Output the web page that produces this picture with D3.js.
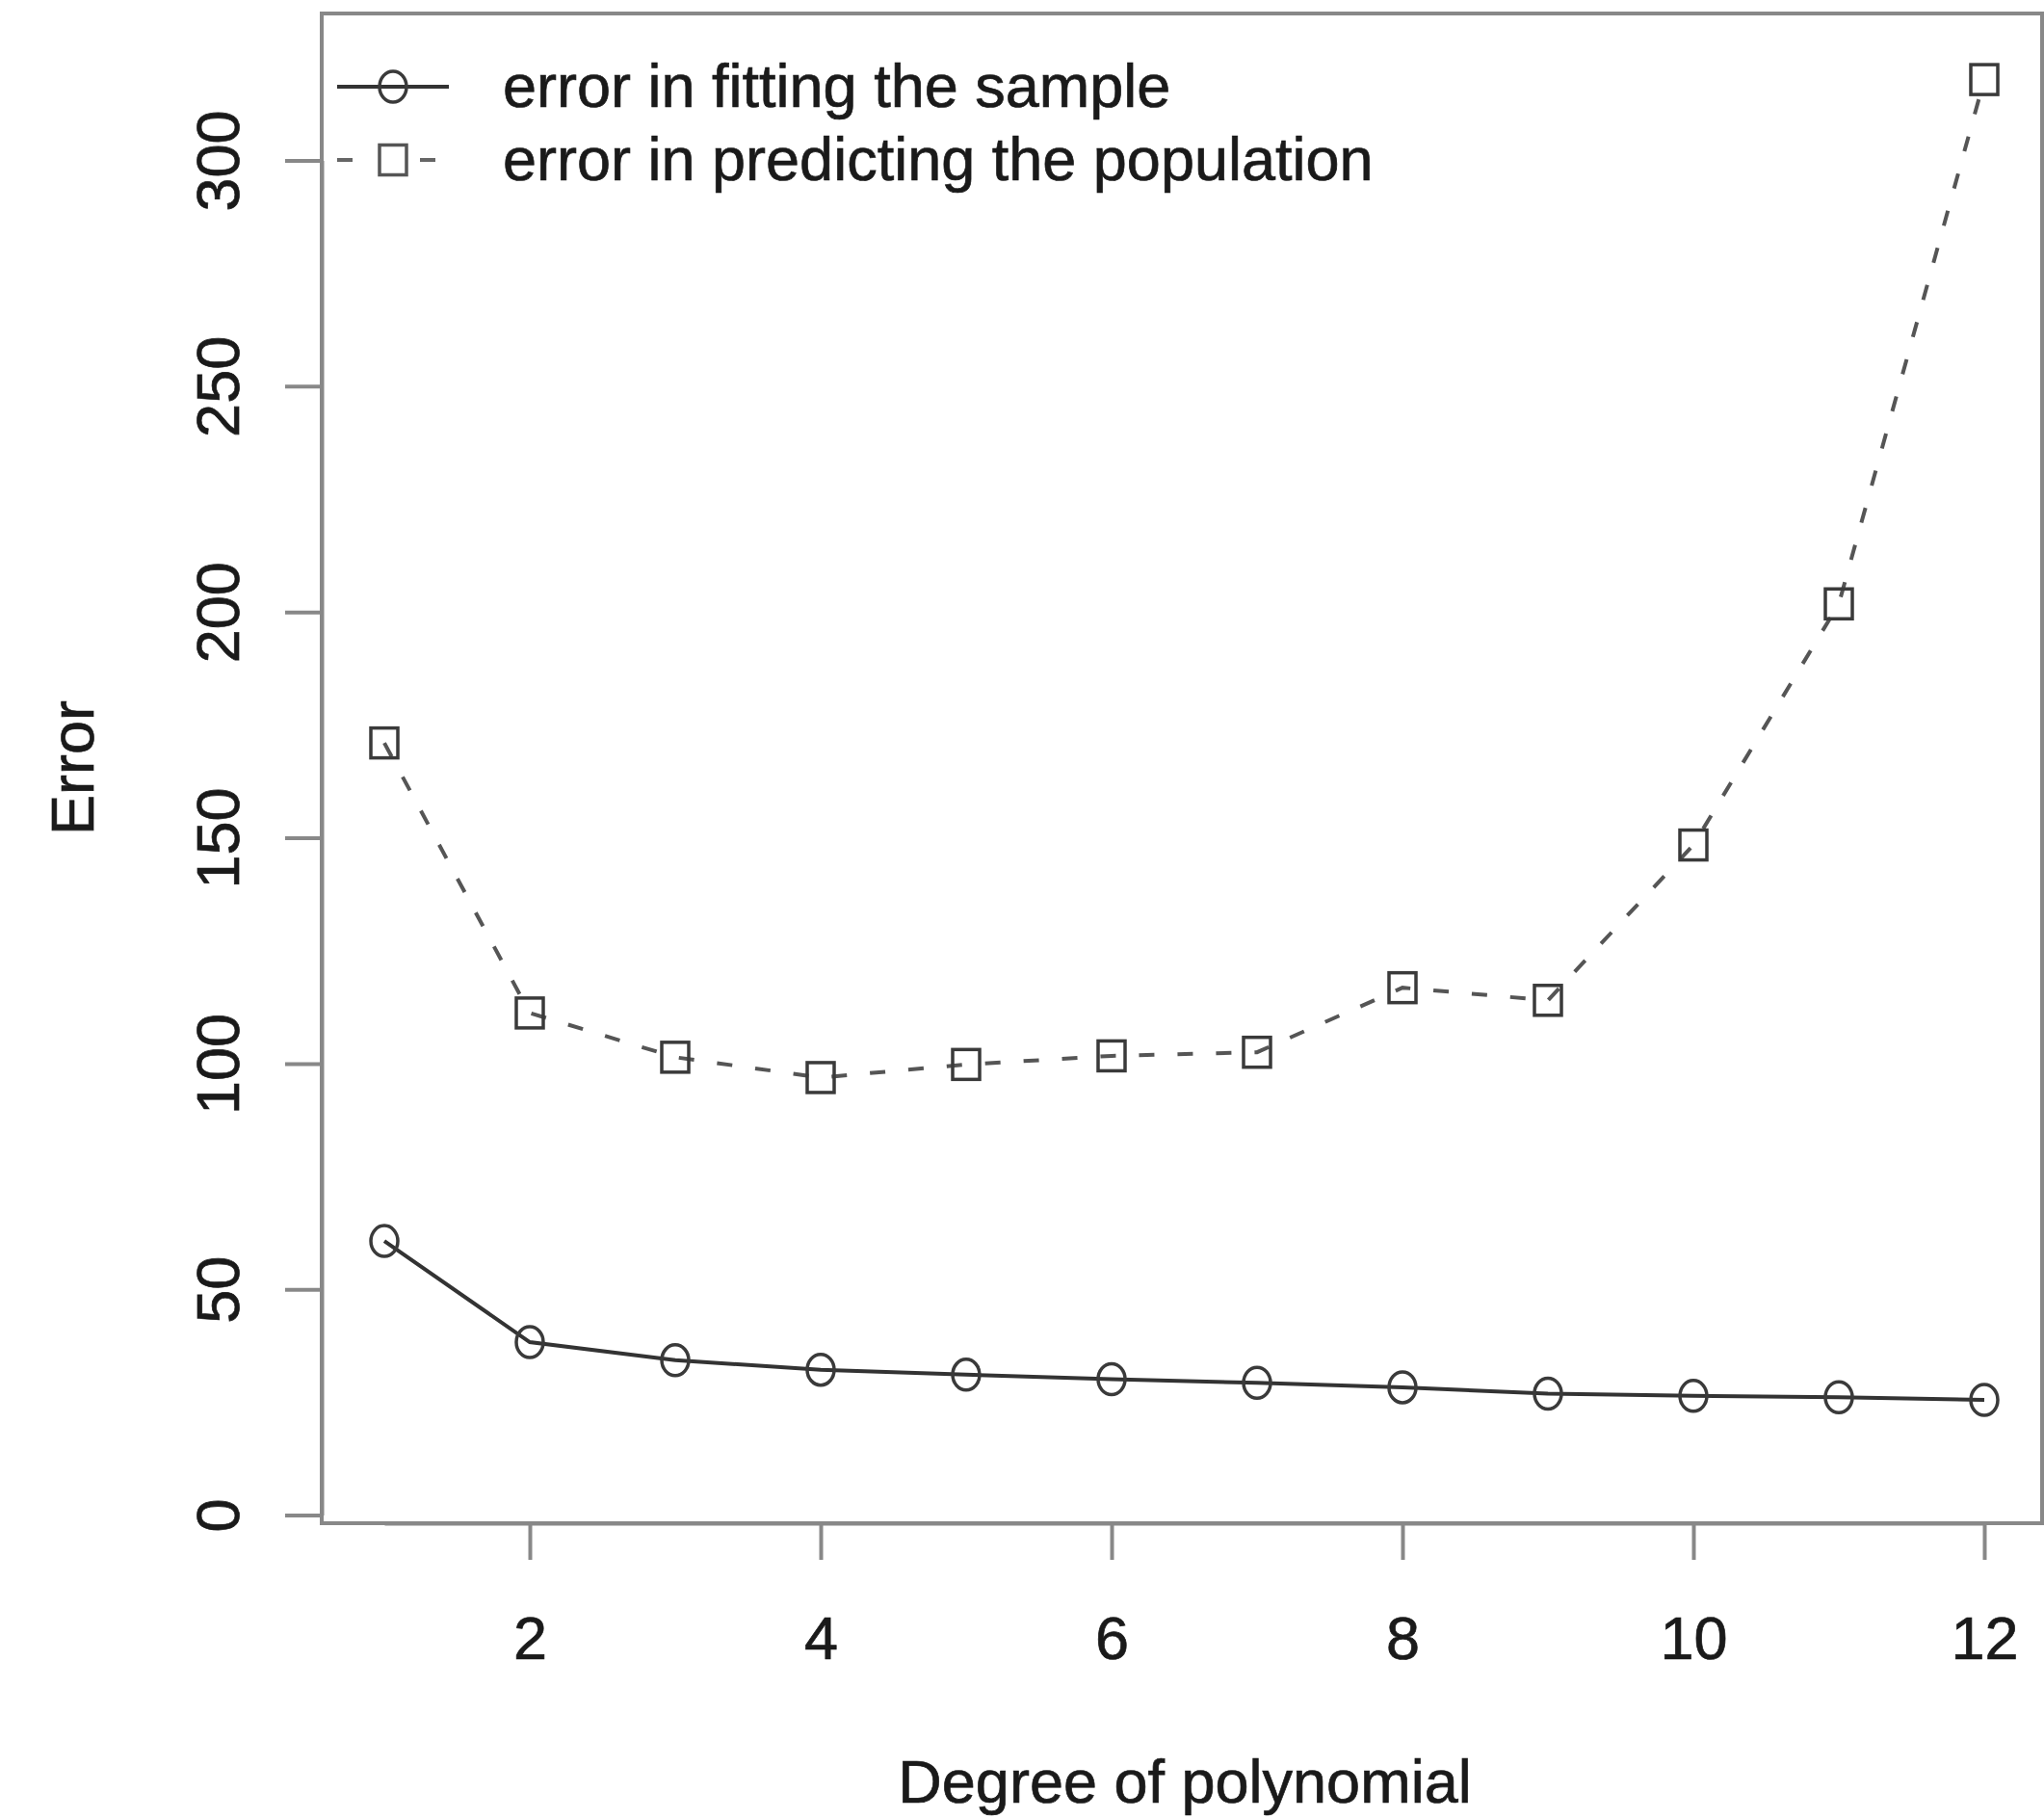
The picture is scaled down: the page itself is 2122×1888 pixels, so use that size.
<!DOCTYPE html>
<html>
<head>
<meta charset="utf-8">
<script src="https://cdn.jsdelivr.net/npm/d3@7"></script>
<style>
  html, body { margin: 0; padding: 0; background: #fff; }
  svg { display: block; }
  text { font-family: "Liberation Sans", Arial, Helvetica, sans-serif; fill: #1a1a1a; stroke: #1a1a1a; stroke-width: 0.7px; }
</style>
</head>
<body>
<script>
// ---- data ----
const degrees = [1, 2, 3, 4, 5, 6, 7, 8, 9, 10, 11, 12];
const sampleError = [60.7, 38.3, 34.3, 32.2, 31.1, 30.1, 29.3, 28.3, 26.9, 26.4, 26.1, 25.5];
const populationError = [171.0, 111.2, 101.4, 96.9, 99.8, 101.7, 102.5, 116.8, 114.0, 148.4, 201.8, 317.9];
const xTickValues = [2, 4, 6, 8, 10, 12];
const yTickValues = [0, 50, 100, 150, 200, 250, 300];
const legendLabels = ["error in fitting the sample", "error in predicting the population"];
const xTitle = "Degree of polynomial";
const yTitle = "Error";

// ---- layout ----
const W = 2122, H = 1888;
const box = { left: 334, top: 14, right: 2120, bottom: 1581 };
const fontSize = 63;

const svg = d3.select("body").append("svg")
  .attr("width", W).attr("height", H);

const x = d3.scaleLinear().domain([1, 12]).range([399, 2060]);
const y = d3.scaleLinear().domain([0, 300]).range([1572.6, 166.5]);

// plot box
svg.append("rect")
  .attr("x", box.left).attr("y", box.top)
  .attr("width", box.right - box.left).attr("height", box.bottom - box.top)
  .attr("fill", "none").attr("stroke", "#888").attr("stroke-width", 4);

// y axis
const gy = svg.append("g")
  .attr("transform", `translate(${box.left},0)`)
  .call(d3.axisLeft(y).tickValues(yTickValues).tickSize(38).tickSizeOuter(0).tickFormat(d3.format("d")));
gy.select(".domain").attr("stroke", "#888").attr("stroke-width", 4);
gy.selectAll(".tick line").attr("stroke", "#888").attr("stroke-width", 4);
gy.selectAll(".tick text")
  .attr("transform", "rotate(-90)")
  .attr("x", 0).attr("y", -(box.left - 248)).attr("dy", null)
  .attr("text-anchor", "middle")
  .style("font-size", fontSize + "px")
  .style("font-family", '"Liberation Sans", Arial, sans-serif')
  .attr("fill", "#1a1a1a");

// x axis
const gx = svg.append("g")
  .attr("transform", `translate(0,${box.bottom})`)
  .call(d3.axisBottom(x).tickValues(xTickValues).tickSize(38).tickSizeOuter(0).tickFormat(d3.format("d")));
gx.select(".domain").attr("stroke", "#888").attr("stroke-width", 4);
gx.selectAll(".tick line").attr("stroke", "#888").attr("stroke-width", 4);
gx.selectAll(".tick text")
  .attr("y", 1722 - box.bottom).attr("dy", null)
  .style("font-size", fontSize + "px")
  .style("font-family", '"Liberation Sans", Arial, sans-serif')
  .attr("fill", "#1a1a1a");

// axis titles
svg.append("text")
  .attr("x", 1230).attr("y", 1871)
  .attr("text-anchor", "middle")
  .style("font-size", fontSize + "px")
  .text(xTitle);
svg.append("text")
  .attr("transform", `translate(97,797) rotate(-90)`)
  .attr("text-anchor", "middle")
  .style("font-size", fontSize + "px")
  .text(yTitle);

// lines
const line = d3.line().x((d, i) => x(degrees[i])).y(d => y(d));
const dashPattern = "16,24";

svg.append("path")
  .datum(populationError)
  .attr("d", line)
  .attr("fill", "none").attr("stroke", "#555").attr("stroke-width", 4)
  .attr("stroke-dasharray", dashPattern);

svg.append("path")
  .datum(sampleError)
  .attr("d", line)
  .attr("fill", "none").attr("stroke", "#333").attr("stroke-width", 4);

// markers
const circR = { rx: 14, ry: 16 };
const sq = { w: 28, h: 31 };

svg.append("g").selectAll("ellipse")
  .data(sampleError).join("ellipse")
  .attr("cx", (d, i) => x(degrees[i])).attr("cy", d => y(d))
  .attr("rx", circR.rx).attr("ry", circR.ry)
  .attr("fill", "none").attr("stroke", "#3a3a3a").attr("stroke-width", 3.5);

svg.append("g").selectAll("rect")
  .data(populationError).join("rect")
  .attr("x", (d, i) => x(degrees[i]) - sq.w / 2).attr("y", d => y(d) - sq.h / 2)
  .attr("width", sq.w).attr("height", sq.h)
  .attr("fill", "none").attr("stroke", "#3a3a3a").attr("stroke-width", 3.5);

// legend
const legRows = [90, 166];
const legLineX = [350, 466];
const legSymX = 408;
const legTextX = 522;

const lg = svg.append("g");
// row 1: solid line + circle
lg.append("line")
  .attr("x1", legLineX[0]).attr("x2", legLineX[1])
  .attr("y1", legRows[0]).attr("y2", legRows[0])
  .attr("stroke", "#333").attr("stroke-width", 4);
lg.append("ellipse")
  .attr("cx", legSymX).attr("cy", legRows[0])
  .attr("rx", circR.rx).attr("ry", circR.ry)
  .attr("fill", "none").attr("stroke", "#3a3a3a").attr("stroke-width", 3.5);
// row 2: dashed line + square
lg.append("line")
  .attr("x1", legLineX[0]).attr("x2", legLineX[1])
  .attr("y1", legRows[1]).attr("y2", legRows[1])
  .attr("stroke", "#666").attr("stroke-width", 4)
  .attr("stroke-dasharray", "16,27");
lg.append("rect")
  .attr("x", legSymX - sq.w / 2).attr("y", legRows[1] - sq.h / 2)
  .attr("width", sq.w).attr("height", sq.h)
  .attr("fill", "#fff").attr("stroke", "#555").attr("stroke-width", 3.5);

lg.selectAll("text.leg")
  .data(legendLabels).join("text")
  .attr("class", "leg")
  .attr("x", legTextX).attr("y", (d, i) => legRows[i] + 21)
  .style("font-size", fontSize + "px")
  .text(d => d);
</script>
</body>
</html>
